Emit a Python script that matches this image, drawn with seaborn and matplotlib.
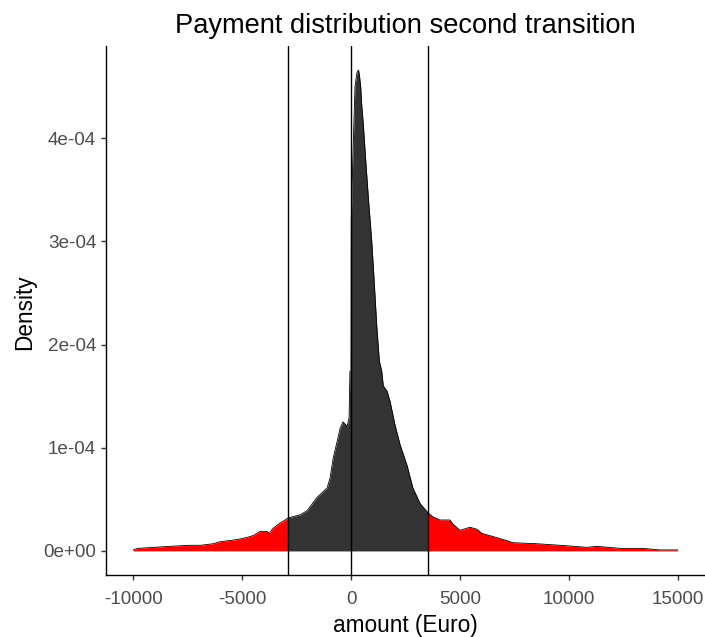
import numpy as np
import pandas as pd
import seaborn as sns
import matplotlib.pyplot as plt

# Density of payment amounts (Euro), density values in units of 1e-4
amount = [
    -10000, -9800, -8300, -7400, -6900, -6330, -6000, -5240, -4790, -4480,
    -4170, -3870, -3750, -3580, -3260, -3030, -2890,
    -2340, -2020, -1560, -1100, -960, -820, -640, -500, -370, -180, -90,
    -50, 0, 10, 75, 180, 275, 345, 390, 445, 490, 565, 675, 795, 950,
    1055, 1180, 1300, 1410, 1480, 1650, 1790, 2020, 2250, 2570, 2840,
    3170, 3530,
    3760, 4080, 4540, 4680, 5000, 5460, 5780, 6010, 6510, 7160, 7430,
    8530, 9590, 10830, 11280, 12340, 13390, 14170, 15000,
]
density_e4 = [
    0.01, 0.025, 0.045, 0.055, 0.055, 0.07, 0.09, 0.11, 0.13, 0.15,
    0.19, 0.19, 0.17, 0.22, 0.27, 0.30, 0.32,
    0.35, 0.39, 0.52, 0.61, 0.71, 0.90, 1.06, 1.19, 1.25, 1.21, 1.29,
    1.74, 1.74, 3.20, 3.75, 4.50, 4.64, 4.66, 4.60, 4.49, 4.32, 4.13, 3.78, 3.42, 3.00,
    2.64, 2.18, 1.84, 1.74, 1.60, 1.55, 1.45, 1.22, 1.03, 0.83, 0.61,
    0.46, 0.37,
    0.33, 0.30, 0.30, 0.26, 0.20, 0.23, 0.21, 0.17, 0.14, 0.10, 0.08,
    0.07, 0.055, 0.035, 0.045, 0.025, 0.025, 0.01, 0.01,
]

# Cut-offs marking the tails, plus the zero reference
lower_cut = -2890
upper_cut = 3530
vlines = [lower_cut, 0, upper_cut]

df = pd.DataFrame({"amount": amount, "density": np.array(density_e4) * 1e-4})

sns.set_theme(style="ticks")
plt.rcParams["font.family"] = ["Liberation Sans", "DejaVu Sans"]

W, H = 705, 637
fig = plt.figure(figsize=(W / 100, H / 100), dpi=100)
left, right, top, bottom = 106, 705, 46, 575
ax = fig.add_axes([left / W, 1 - bottom / H, (right - left) / W, (bottom - top) / H])

tail_lo = df[df.amount <= lower_cut]
mid = df[(df.amount >= lower_cut) & (df.amount <= upper_cut)]
tail_hi = df[df.amount >= upper_cut]

for seg, col in [(tail_lo, "#FF0000"), (mid, "#333333"), (tail_hi, "#FF0000")]:
    ax.fill_between(seg.amount, 0, seg.density, color=col, linewidth=0)

sns.lineplot(data=df, x="amount", y="density", color="black", linewidth=0.6,
             estimator=None, sort=False, ax=ax)

for v in vlines:
    ax.axvline(v, color="black", linewidth=1.0)

# ggplot-like 5% expansion of the data range
xr = df.amount.max() - df.amount.min()
ax.set_xlim(df.amount.min() - 0.05 * xr, df.amount.max() + 0.05 * xr)
ymax = df.density.max()
ax.set_ylim(-0.05 * ymax, ymax * 1.05)

ax.set_xticks([-10000, -5000, 0, 5000, 10000, 15000])
ax.set_xticklabels(["-10000", "-5000", "0", "5000", "10000", "15000"])
ax.set_yticks([0, 1e-4, 2e-4, 3e-4, 4e-4])
ax.set_yticklabels(["0e+00", "1e-04", "2e-04", "3e-04", "4e-04"])

sns.despine(ax=ax)
for s in ["left", "bottom"]:
    ax.spines[s].set_color("black")
    ax.spines[s].set_linewidth(1.0)
ax.tick_params(axis="both", length=3.6, width=1.0, color="#333333",
               labelcolor="#4D4D4D", labelsize=13.6)
ax.tick_params(axis="x", pad=8.0)
ax.tick_params(axis="y", pad=3.5)
ax.set_xlabel("")
ax.set_ylabel("")

fig.text(405.5 / W, 1 - 33 / H, "Payment distribution second transition",
         ha="center", va="baseline", fontsize=19.6, color="black")
fig.text(405 / W, 1 - 632 / H, "amount (Euro)", ha="center", va="baseline",
         fontsize=16.3, color="black")
fig.text(25 / W, 1 - 312.5 / H, "Density", rotation=90, ha="center", va="center",
         fontsize=16.3, color="black")

fig.savefig("out.png", dpi=100, facecolor="white")
